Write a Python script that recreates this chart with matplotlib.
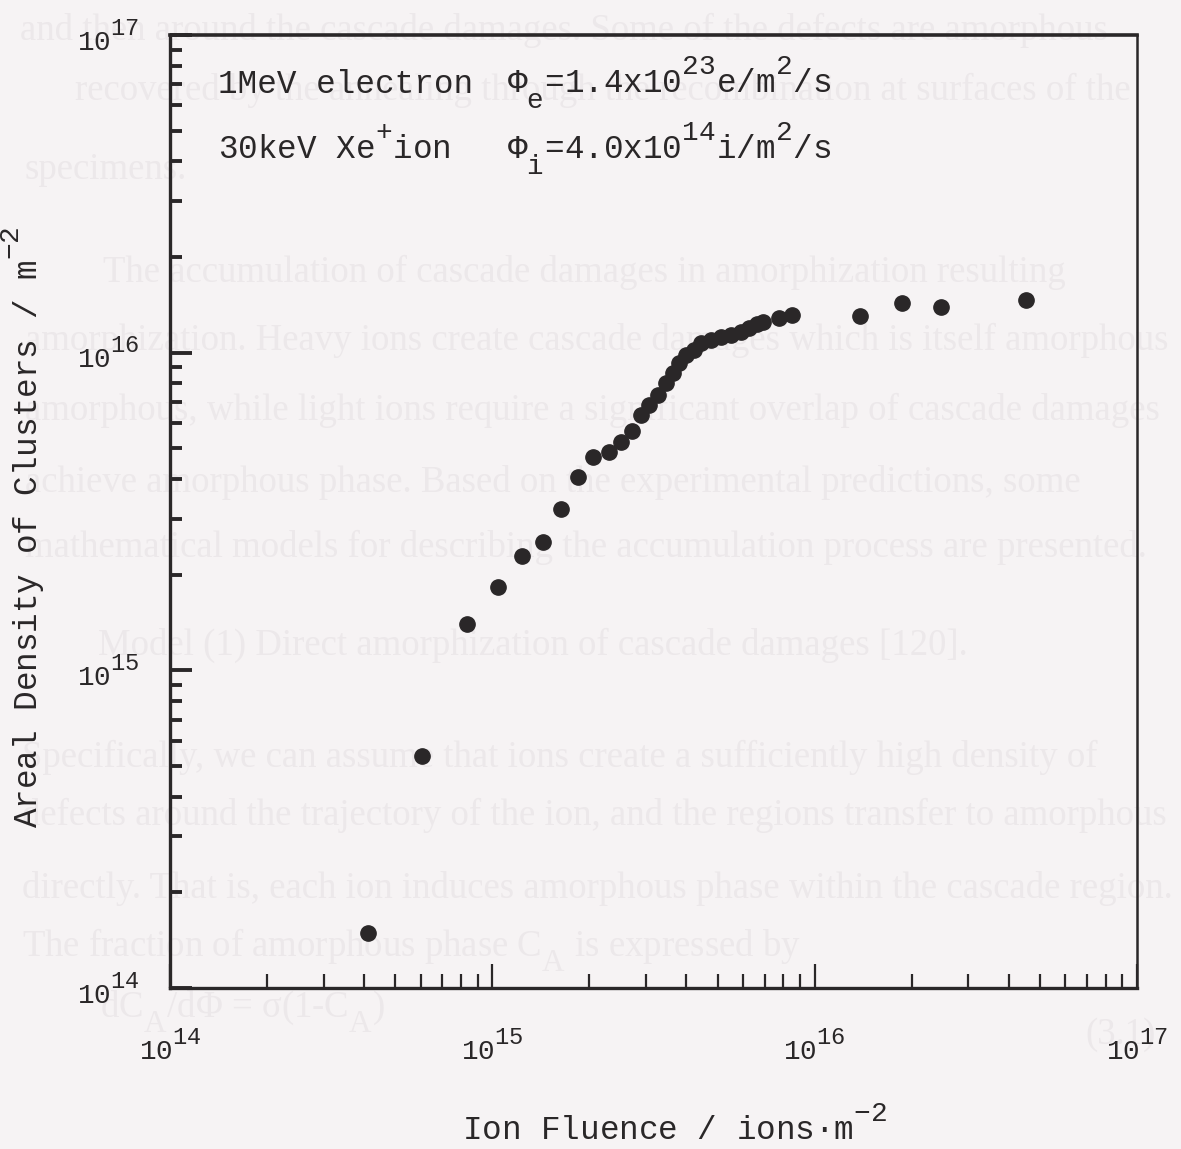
import matplotlib
matplotlib.use("Agg")
import matplotlib.pyplot as plt
import matplotlib._mathtext as mathtext_core
from matplotlib.ticker import LogLocator, NullFormatter
import numpy as np

# superscripts in the scan are almost full size and sit high,
# subscripts hang below the baseline
mathtext_core.SHRINK_FACTOR = 0.85
mathtext_core.FontConstantsBase.sup1 = 1.0
mathtext_core.FontConstantsBase.sub1 = 0.85

plt.rcParams['font.family'] = ['Liberation Mono', 'DejaVu Sans Mono']
plt.rcParams['mathtext.fontset'] = 'custom'
plt.rcParams['mathtext.rm'] = 'Liberation Mono'
plt.rcParams['mathtext.it'] = 'Liberation Mono'
plt.rcParams['mathtext.bf'] = 'Liberation Mono:bold'
plt.rcParams['mathtext.default'] = 'regular'

# ion fluence (ions/m^2) vs areal density of clusters (1/m^2)
fluence = [4.10e14, 6.07e14, 8.32e14, 1.04e15, 1.24e15, 1.44e15, 1.63e15,
           1.84e15, 2.05e15, 2.30e15, 2.51e15, 2.71e15, 2.89e15, 3.06e15,
           3.27e15, 3.46e15, 3.64e15, 3.79e15, 3.99e15, 4.22e15, 4.44e15,
           4.77e15, 5.12e15, 5.51e15, 5.91e15, 6.26e15, 6.63e15, 6.92e15,
           7.76e15, 8.52e15, 1.38e16, 1.87e16, 2.46e16, 4.52e16]
density = [1.49e14, 5.37e14, 1.40e15, 1.83e15, 2.29e15, 2.53e15, 3.22e15,
           4.06e15, 4.69e15, 4.87e15, 5.23e15, 5.67e15, 6.36e15, 6.84e15,
           7.35e15, 8.02e15, 8.63e15, 9.27e15, 9.83e15, 1.02e16, 1.07e16,
           1.10e16, 1.12e16, 1.14e16, 1.16e16, 1.20e16, 1.23e16, 1.25e16,
           1.29e16, 1.31e16, 1.30e16, 1.43e16, 1.39e16, 1.47e16]

legend_left = ["1MeV electron", "30keV Xe$^{+}$ion"]
legend_right = ["Φ$_{e}$=1.4x10$^{23}$e/m$^{2}$/s",
                "Φ$_{i}$=4.0x10$^{14}$i/m$^{2}$/s"]

# faint text of the scanned page behind the chart
page_lines = [
    "and then around the cascade damages. Some of the defects are amorphous",
    "recovered by the annealing through the recombination at surfaces of the",
    "specimens.",
    "The accumulation of cascade damages in amorphization resulting",
    "amorphization. Heavy ions create cascade damages which is itself amorphous",
    "amorphous, while light ions require a significant overlap of cascade damages",
    "achieve amorphous phase. Based on the experimental predictions, some",
    "mathematical models for describing the accumulation process are presented.",
    "Model (1) Direct amorphization of cascade damages [120].",
    "Specifically, we can assume that ions create a sufficiently high density of",
    "defects around the trajectory of the ion, and the regions transfer to amorphous",
    "directly. That is, each ion induces amorphous phase within the cascade region.",
    "The fraction of amorphous phase C$_A$ is expressed by",
    "dC$_A$/dΦ = σ(1-C$_A$)",
    "(3.1)",
]
page_x = [20, 75, 25, 103, 25, 25, 25, 25, 98, 22, 22, 22, 22, 100, 1085]
page_y = [30, 90, 170, 272, 340, 410, 482, 547, 645, 757, 815, 888, 950, 1012, 1035]

W, H = 1181, 1149
ink = '#2a2728'
fig = plt.figure(figsize=(W / 100, H / 100), dpi=100, facecolor='#f6f3f4')

for s, px, py in zip(page_lines, page_x, page_y):
    fig.text(px / W, 1 - py / H, s, fontsize=26.5, family='Liberation Serif',
             color='#ece8ea', va='center', ha='left', zorder=-1)

ax = fig.add_axes([170 / W, (H - 988) / H, (1137 - 170) / W, (988 - 35) / H])
ax.set_facecolor('none')

ax.plot(fluence, density, ls='none', marker='o', ms=11,
        mfc=ink, mec=ink)

ax.set_xscale('log')
ax.set_yscale('log')
ax.set_xlim(1e14, 1e17)
ax.set_ylim(1e14, 1e17)

for axis in (ax.xaxis, ax.yaxis):
    axis.set_major_locator(LogLocator(base=10))
    axis.set_minor_locator(LogLocator(base=10, subs=np.arange(2, 10)))
    axis.set_minor_formatter(NullFormatter())

ax.tick_params(axis='x', which='major', direction='in', length=17, width=1.6,
               pad=30, labelsize=20, top=False, color=ink, labelcolor=ink)
ax.tick_params(axis='x', which='minor', direction='in', length=10, width=1.6,
               top=False, color=ink)
ax.tick_params(axis='y', which='major', direction='in', length=16, width=2.8,
               pad=22, labelsize=20, right=False, color=ink, labelcolor=ink)
ax.tick_params(axis='y', which='minor', direction='in', length=8.5, width=2.8,
               right=False, color=ink)

for side, lw in [('top', 2.6), ('left', 2.4), ('bottom', 2.4), ('right', 1.8)]:
    ax.spines[side].set_linewidth(lw)
    ax.spines[side].set_color(ink)

ax.set_xlabel("Ion Fluence / ions·m$^{-2}$", fontsize=23.5, color=ink,
              va='baseline')
ax.xaxis.set_label_coords(0.522, -0.159)
ax.set_ylabel("Areal Density of Clusters / m$^{-2}$", fontsize=23.5, color=ink)
ax.yaxis.set_label_coords(-0.127, 0.484)

for i, (left, right) in enumerate(zip(legend_left, legend_right)):
    yb = 0.939 - i * 0.069
    ax.text(0.0496, yb, left, transform=ax.transAxes, fontsize=23.5,
            va='baseline', ha='left', color=ink)
    ax.text(0.3485, yb, right, transform=ax.transAxes, fontsize=23.5,
            va='baseline', ha='left', color=ink)

fig.savefig("out.png", dpi=100, facecolor=fig.get_facecolor())
